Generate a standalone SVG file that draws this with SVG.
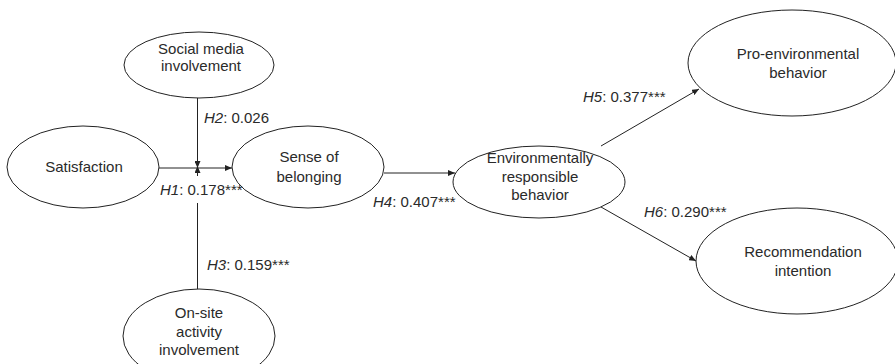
<svg xmlns="http://www.w3.org/2000/svg" width="895" height="364" viewBox="0 0 895 364">
<defs>
<marker id="ah" markerWidth="7" markerHeight="6" refX="7" refY="3" orient="auto" markerUnits="userSpaceOnUse">
<path d="M0,0 L7,3 L0,6 Z" fill="#222"/>
</marker>
<style>
.n ellipse{fill:#fff;stroke:#222;stroke-width:1}
.t{font-family:"Liberation Sans",Arial,sans-serif;font-size:15px;fill:#2a2a2a;text-anchor:middle}
.l{font-family:"Liberation Sans",Arial,sans-serif;font-size:15px;fill:#2a2a2a}
.c line{stroke:#222;stroke-width:1;fill:none}
</style>
</defs>
<rect width="895" height="364" fill="#fff"/>
<g class="c" id="connectors">
<line x1="159" y1="168" x2="232" y2="168" marker-end="url(#ah)"/>
<line x1="197.5" y1="98" x2="197.5" y2="168" marker-end="url(#ah)"/>
<line x1="197.5" y1="176" x2="197.5" y2="166" marker-end="url(#ah)"/>
<line x1="197.5" y1="203" x2="197.5" y2="289"/>
<line x1="384" y1="173" x2="455" y2="173" marker-end="url(#ah)"/>
<line x1="601" y1="146" x2="699" y2="89" marker-end="url(#ah)"/>
<line x1="601" y1="207" x2="696" y2="261" marker-end="url(#ah)"/>
</g>
<g class="n" id="social"><ellipse cx="199" cy="65" rx="75" ry="33"/><text class="t" x="201" y="54">Social media</text><text class="t" x="201" y="71">involvement</text></g>
<g class="n" id="satisfaction"><ellipse cx="83" cy="167" rx="76" ry="41"/><text class="t" x="84" y="172">Satisfaction</text></g>
<g class="n" id="belonging"><ellipse cx="308" cy="167" rx="76" ry="41"/><text class="t" x="309" y="162">Sense of</text><text class="t" x="309" y="182">belonging</text></g>
<g class="n" id="onsite"><ellipse cx="199" cy="336" rx="76" ry="47"/><text class="t" x="199" y="318">On-site</text><text class="t" x="199" y="337">activity</text><text class="t" x="199" y="355">involvement</text></g>
<g class="n" id="erb"><ellipse cx="539" cy="182" rx="86" ry="36"/><text class="t" x="540" y="163">Environmentally</text><text class="t" x="540" y="182">responsible</text><text class="t" x="540" y="200">behavior</text></g>
<g class="n" id="proenv"><ellipse cx="792" cy="63" rx="104" ry="53"/><text class="t" x="798" y="59">Pro-environmental</text><text class="t" x="798" y="78">behavior</text></g>
<g class="n" id="recommend"><ellipse cx="797" cy="261" rx="101" ry="53"/><text class="t" x="803" y="257">Recommendation</text><text class="t" x="803" y="276">intention</text></g>
<g id="labels">
<text class="l" x="204" y="123"><tspan font-style="italic">H2</tspan>: 0.026</text>
<text class="l" x="160" y="195"><tspan font-style="italic">H1</tspan>: 0.178***</text>
<text class="l" x="207" y="270"><tspan font-style="italic">H3</tspan>: 0.159***</text>
<text class="l" x="373" y="207"><tspan font-style="italic">H4</tspan>: 0.407***</text>
<text class="l" x="583" y="102"><tspan font-style="italic">H5</tspan>: 0.377***</text>
<text class="l" x="644" y="217"><tspan font-style="italic">H6</tspan>: 0.290***</text>
</g>
</svg>
